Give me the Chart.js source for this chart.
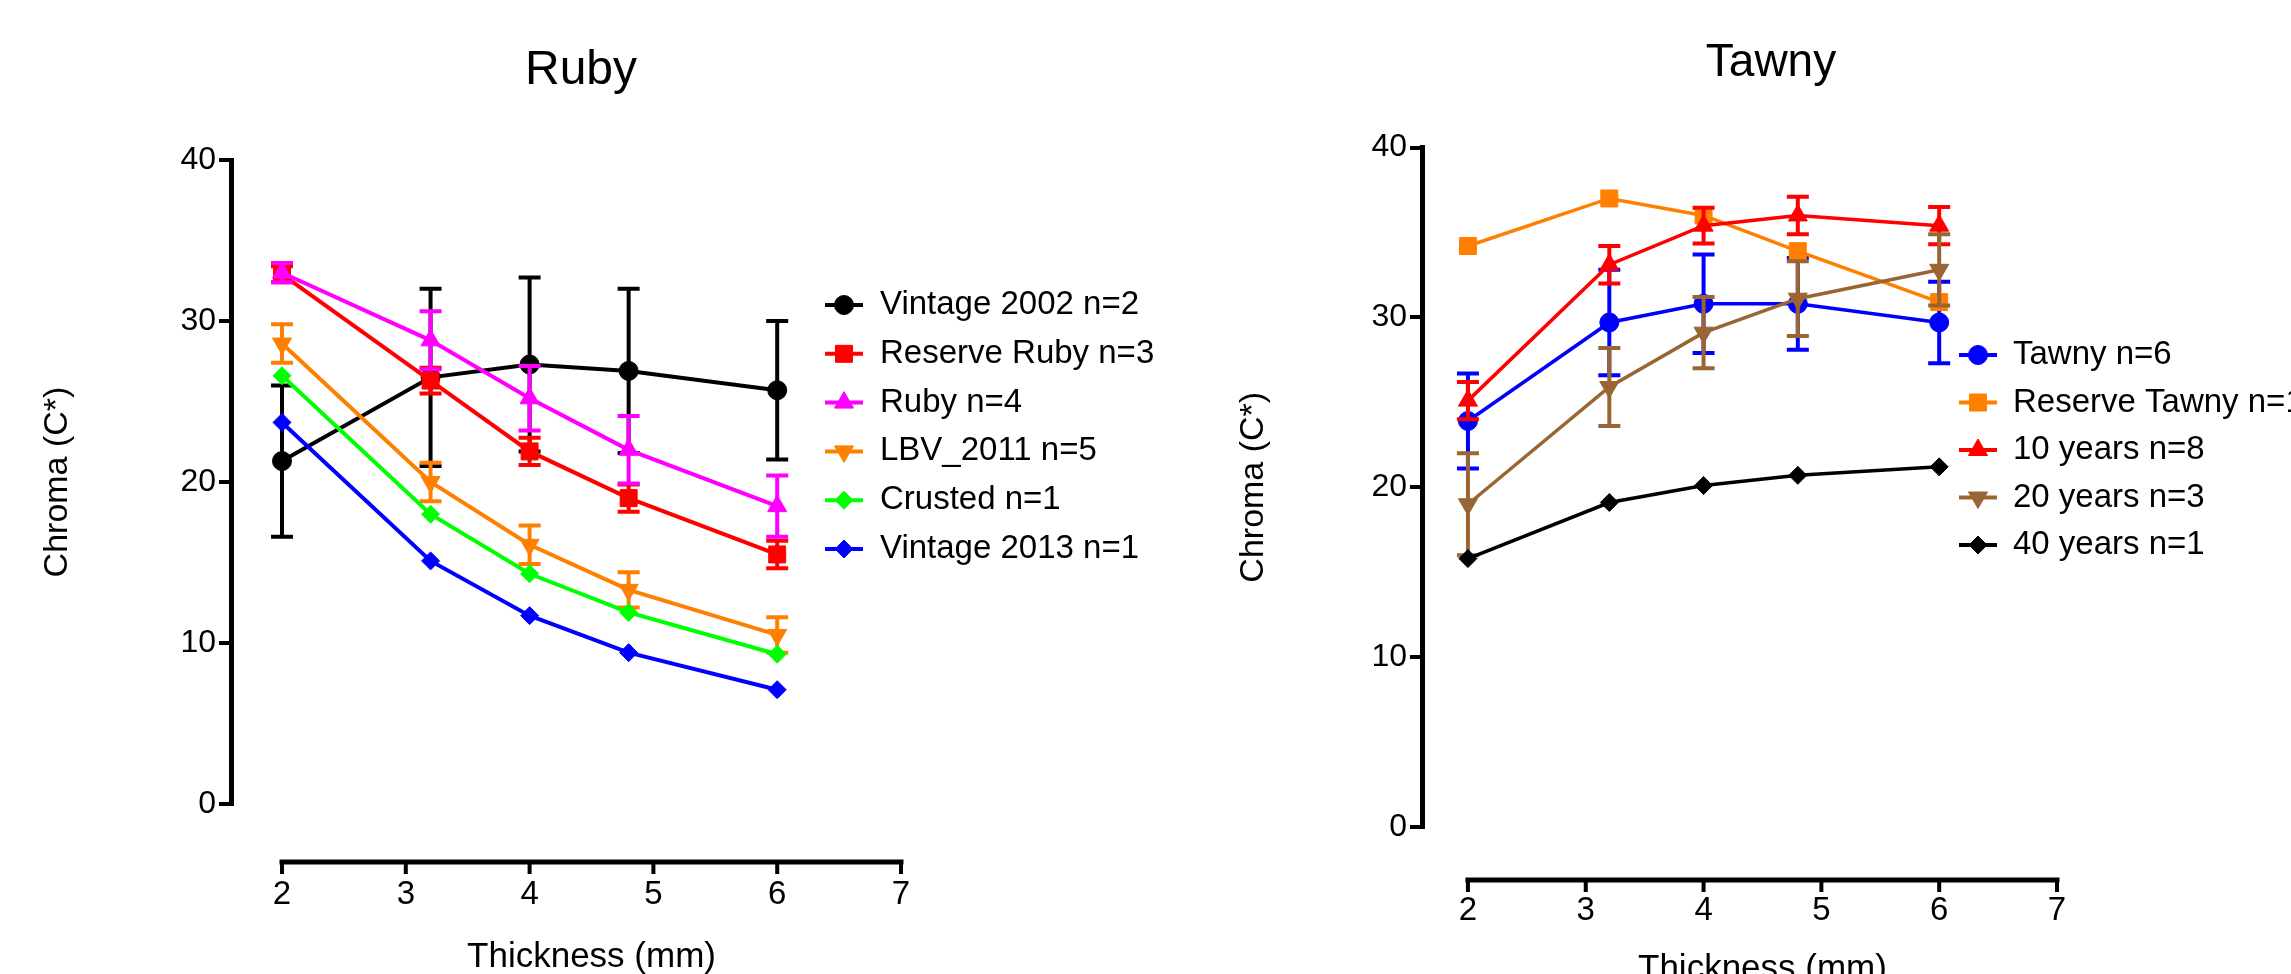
<!DOCTYPE html>
<html>
<head>
<meta charset="utf-8">
<script src="https://cdn.jsdelivr.net/npm/chart.js@4.4.1/dist/chart.umd.min.js"></script>
<style>
  html, body { margin: 0; padding: 0; background: #fff; overflow: hidden; }
  body { width: 2291px; height: 974px; position: relative; }
  .box { position: absolute; top: 0; height: 974px; }
  #rubyBox { left: 0; width: 1162px; }
  #tawnyBox { left: 1236px; width: 1070px; }
</style>
</head>
<body>
<div class="box" id="rubyBox"><canvas id="ruby"></canvas></div>
<div class="box" id="tawnyBox"><canvas id="tawny"></canvas></div>
<script>
// shared axes
var thickness = [2, 3.2, 4, 4.8, 6];
var xTicks = [2, 3, 4, 5, 6, 7];
var yTicks = [0, 10, 20, 30, 40];

// Ruby panel
var rubyLabels = ['Vintage 2002 n=2', 'Reserve Ruby n=3', 'Ruby n=4', 'LBV_2011 n=5', 'Crusted n=1', 'Vintage 2013 n=1'];
var vintage2002 = [21.3, 26.5, 27.3, 26.9, 25.7];
var vintage2002Err = [4.7, 5.5, 5.4, 5.1, 4.3];
var reserveRuby = [32.9, 26.3, 21.9, 19.0, 15.5];
var reserveRubyErr = [0.5, 0.8, 0.85, 0.85, 0.85];
var rubyN4 = [33.0, 28.8, 25.2, 22.0, 18.5];
var rubyN4Err = [0.6, 1.8, 2.0, 2.1, 1.9];
var lbv2011 = [28.6, 20.0, 16.1, 13.3, 10.5];
var lbv2011Err = [1.2, 1.2, 1.2, 1.1, 1.1];
var crusted = [26.6, 18.0, 14.3, 11.9, 9.3];
var vintage2013 = [23.7, 15.1, 11.7, 9.4, 7.1];

// Tawny panel
var tawnyLabels = ['Tawny n=6', 'Reserve Tawny n=1', '10 years n=8', '20 years n=3', '40 years n=1'];
var tawnyN6 = [23.9, 29.7, 30.8, 30.8, 29.7];
var tawnyN6Err = [2.8, 3.1, 2.9, 2.7, 2.4];
var reserveTawny = [34.2, 37.0, 36.0, 33.9, 30.9];
var years10 = [25.1, 33.1, 35.4, 36.0, 35.4];
var years10Err = [1.1, 1.1, 1.05, 1.1, 1.1];
var years20 = [19.0, 25.9, 29.1, 31.1, 32.8];
var years20Err = [3.0, 2.3, 2.1, 2.2, 2.1];
var years40 = [15.8, 19.1, 20.1, 20.7, 21.2];

var FONT = '"Liberation Sans", Arial, sans-serif';

function series(label, values, errors, color, style, radius, rotation, width) {
  return {
    label: label,
    data: values.map(function (v, i) { return { x: thickness[i], y: v }; }),
    errors: errors,
    borderColor: color,
    backgroundColor: color,
    borderWidth: width,
    pointStyle: style,
    pointRadius: radius,
    pointRotation: rotation || 0,
    pointBorderWidth: 1,
    tension: 0
  };
}

// error bars drawn under each dataset's line, through the chart scales
var errorBars = {
  id: 'errorBars',
  beforeDatasetDraw: function (chart, args) {
    var ds = chart.data.datasets[args.index];
    if (!ds.errors) return;
    var ctx = chart.ctx, xs = chart.scales.x, ys = chart.scales.y;
    ctx.save();
    ctx.strokeStyle = ds.borderColor;
    ctx.lineWidth = 4;
    ds.data.forEach(function (p, i) {
      var e = ds.errors[i];
      var px = xs.getPixelForValue(p.x);
      var top = ys.getPixelForValue(p.y + e);
      var bot = ys.getPixelForValue(p.y - e);
      ctx.beginPath();
      ctx.moveTo(px, top); ctx.lineTo(px, bot);
      ctx.moveTo(px - 11, top); ctx.lineTo(px + 11, top);
      ctx.moveTo(px - 11, bot); ctx.lineTo(px + 11, bot);
      ctx.stroke();
    });
    ctx.restore();
  }
};

// centre the chart title on the whole canvas, not the padded area
var titleSpan = {
  id: 'titleSpan',
  afterLayout: function (chart) {
    if (chart.titleBlock) {
      chart.titleBlock.left = 0;
      chart.titleBlock.right = chart.width;
    }
  }
};

// detached x axis line below the plot (Prism style) plus its title
var xAxisLine = {
  id: 'xAxisLine',
  afterDraw: function (chart, args, opts) {
    var ctx = chart.ctx, xs = chart.scales.x;
    var yLine = chart.chartArea.bottom + opts.gap;
    var x0 = xs.getPixelForValue(xTicks[0]);
    var x1 = xs.getPixelForValue(xTicks[xTicks.length - 1]);
    ctx.save();
    ctx.strokeStyle = '#000';
    ctx.lineWidth = 5;
    ctx.beginPath();
    ctx.moveTo(x0 - 2.5, yLine); ctx.lineTo(x1 + 2.5, yLine);
    ctx.stroke();
    ctx.lineWidth = 4;
    ctx.beginPath();
    xTicks.forEach(function (t) {
      var px = xs.getPixelForValue(t);
      ctx.moveTo(px, yLine); ctx.lineTo(px, yLine + 12);
    });
    ctx.stroke();
    ctx.fillStyle = '#000';
    ctx.font = '35px ' + FONT;
    ctx.textAlign = 'center';
    ctx.textBaseline = 'middle';
    ctx.fillText('Thickness (mm)', (x0 + x1) / 2, opts.titleY);
    ctx.restore();
  }
};

// legend drawn beside the plot, overlapping the x range like the original
var sideLegend = {
  id: 'sideLegend',
  afterDraw: function (chart, args, opts) {
    var ctx = chart.ctx;
    ctx.save();
    chart.data.datasets.forEach(function (ds, i) {
      var cy = opts.top + i * opts.step;
      var cx = opts.left;
      ctx.strokeStyle = ds.borderColor;
      ctx.lineWidth = 4;
      ctx.beginPath(); ctx.moveTo(cx - 19, cy); ctx.lineTo(cx + 19, cy); ctx.stroke();
      ctx.fillStyle = ds.backgroundColor;
      ctx.lineWidth = 1;
      if (Chart.helpers && Chart.helpers.drawPoint) {
        Chart.helpers.drawPoint(ctx, {
          pointStyle: ds.pointStyle, rotation: ds.pointRotation, radius: ds.pointRadius, borderWidth: 1
        }, cx, cy);
      }
      ctx.fillStyle = '#000';
      ctx.font = '33px ' + FONT;
      ctx.textBaseline = 'middle';
      ctx.textAlign = 'left';
      ctx.fillText(ds.label, opts.textX, cy);
    });
    ctx.restore();
  }
};

function makeChart(id, title, datasets, g) {
  // later series drawn on top
  datasets.forEach(function (ds, i) { ds.order = datasets.length - i; });
  return new Chart(document.getElementById(id), {
    type: 'line',
    data: { datasets: datasets },
    plugins: [titleSpan, errorBars, xAxisLine, sideLegend],
    options: {
      responsive: true,
      maintainAspectRatio: false,
      animation: false,
      layout: { padding: { left: 0, right: g.padRight, top: 0, bottom: 0 } },
      plugins: {
        legend: { display: false },
        tooltip: { enabled: false },
        title: {
          display: true,
          text: title,
          color: '#000',
          font: { family: FONT, size: g.titleSize, weight: 'normal' },
          padding: { top: g.titleTop, bottom: g.titleBottom }
        },
        xAxisLine: { gap: g.axisGap, titleY: g.xTitleY },
        sideLegend: { left: g.legendX, textX: g.legendTextX, top: g.legendTop, step: g.legendStep }
      },
      scales: {
        x: {
          type: 'linear',
          min: g.xMin,
          max: 7,
          afterBuildTicks: function (s) { s.ticks = xTicks.map(function (v) { return { value: v }; }); },
          afterFit: function (s) { s.height = g.xHeight; },
          border: { display: false },
          grid: { display: true, drawOnChartArea: false, drawTicks: true, tickLength: g.xTickLen, color: 'rgba(0,0,0,0)' },
          ticks: { color: '#000', padding: 3, maxRotation: 0, font: { family: FONT, size: 33 } }
        },
        y: {
          min: 0,
          max: 40,
          afterBuildTicks: function (s) { s.ticks = yTicks.map(function (v) { return { value: v }; }); },
          afterFit: function (s) { s.width = g.yWidth; },
          border: { display: true, color: '#000', width: 5 },
          grid: { drawOnChartArea: false, drawTicks: true, tickLength: 12, lineWidth: 4, color: '#000' },
          ticks: { color: '#000', padding: 3, font: { family: FONT, size: 32 } },
          title: {
            display: true,
            text: 'Chroma (C*)',
            color: '#000',
            font: { family: FONT, size: 34, lineHeight: 1 },
            padding: { top: g.yTitleTop, bottom: 0 }
          }
        }
      }
    }
  });
}

makeChart('ruby', 'Ruby', [
  series(rubyLabels[0], vintage2002, vintage2002Err, '#000000', 'circle', 9.5, 0, 4),
  series(rubyLabels[1], reserveRuby, reserveRubyErr, '#ff0000', 'rect', 12, 0, 4),
  series(rubyLabels[2], rubyN4, rubyN4Err, '#ff00ff', 'triangle', 11, 0, 4),
  series(rubyLabels[3], lbv2011, lbv2011Err, '#ff8000', 'triangle', 11, 180, 4),
  series(rubyLabels[4], crusted, null, '#00ff00', 'rectRot', 9, 0, 4),
  series(rubyLabels[5], vintage2013, null, '#0000ff', 'rectRot', 9, 0, 4)
], {
  padRight: 261, titleSize: 48, titleTop: 42, titleBottom: 60.4,
  xMin: 1.588, xHeight: 170, xTickLen: 68, xTitleY: 957, axisGap: 58,
  yWidth: 231, yTitleTop: 41,
  legendX: 844, legendTextX: 880, legendTop: 305, legendStep: 48.8
});

makeChart('tawny', 'Tawny', [
  series(tawnyLabels[0], tawnyN6, tawnyN6Err, '#0000ff', 'circle', 9.5, 0, 3.5),
  series(tawnyLabels[1], reserveTawny, null, '#ff8000', 'rect', 12, 0, 3.5),
  series(tawnyLabels[2], years10, years10Err, '#ff0000', 'triangle', 11, 0, 3.5),
  series(tawnyLabels[3], years20, years20Err, '#996633', 'triangle', 11, 180, 3.5),
  series(tawnyLabels[4], years40, null, '#000000', 'rectRot', 9, 0, 3.5)
], {
  padRight: 249, titleSize: 46, titleTop: 36, titleBottom: 56.3,
  xMin: 1.61, xHeight: 147, xTickLen: 61, xTitleY: 969, axisGap: 53,
  yWidth: 186, yTitleTop: 0.5,
  legendX: 742, legendTextX: 777, legendTop: 355, legendStep: 47.5
});
</script>
</body>
</html>
